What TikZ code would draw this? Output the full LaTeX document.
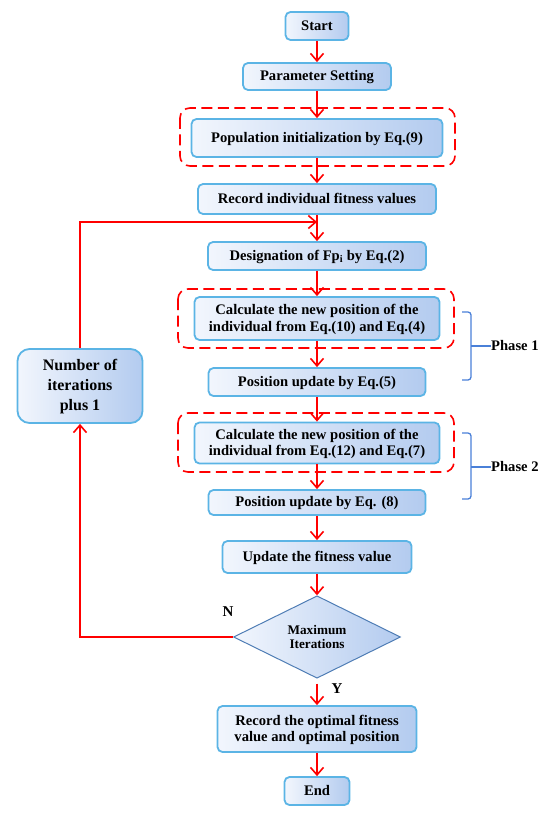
\documentclass[tikz,border=0pt]{standalone}
\usepackage{fontspec}
\setmainfont{Liberation Serif}
\usetikzlibrary{arrows.meta,shapes.geometric}
\definecolor{bordc}{HTML}{5BB4E5}
\definecolor{fillL}{HTML}{F2F6FD}
\definecolor{fillR}{HTML}{B3CBEF}
\definecolor{arrc}{HTML}{FF0000}
\definecolor{bracec}{HTML}{4A80D8}
\definecolor{diac}{HTML}{4F7DB5}
\begin{document}
\begin{tikzpicture}[x=1pt,y=-1pt,
  box/.style={draw=bordc, line width=1.8pt, rounded corners=5pt, left color=fillL, right color=fillR,
    inner sep=0pt, align=center, font=\fontsize{14.6}{16.7}\selectfont\bfseries, text=black, text depth=1.5pt},
  arr/.style={draw=arrc, line width=1.6pt, -{Straight Barb[length=7.5pt,width=13pt]}},
  dbox/.style={draw=arrc, line width=1.6pt, dash pattern=on 11pt off 5.5pt, rounded corners=10pt},
  brace/.style={draw=bracec, line width=1.3pt},
  lab/.style={font=\fontsize{14.6}{16.7}\selectfont\bfseries, inner sep=0pt}]
\useasboundingbox (0,0) rectangle (550,826);
% dashed groups
\draw[dbox] (180,108) rectangle (455,166);
\draw[dbox] (178,289) rectangle (454,348);
\draw[dbox] (178,413) rectangle (454,472);
% nodes
\node[box, minimum width=63pt, minimum height=28pt] (start) at (317,26) {Start};
\node[box, minimum width=148pt, minimum height=27pt] (param) at (317,76.5) {Parameter Setting};
\node[box, minimum width=251pt, minimum height=38pt] (pop) at (317,138) {Population initialization by Eq.(9)};
\node[box, minimum width=238pt, minimum height=30pt] (rec) at (317,199) {Record individual fitness values};
\node[box, minimum width=218pt, minimum height=28pt] (desig) at (317,256) {Designation of Fp\textsubscript{i} by Eq.(2)};
\node[box, minimum width=245pt, minimum height=43pt] (calc1) at (317,318.5) {Calculate the new position of the\\individual from Eq.(10) and Eq.(4)};
\node[box, minimum width=217pt, minimum height=28pt] (pos5) at (317,382) {Position update by Eq.(5)};
\node[box, minimum width=245pt, minimum height=41pt] (calc2) at (317,443) {Calculate the new position of the\\individual from Eq.(12) and Eq.(7)};
\node[box, minimum width=217pt, minimum height=25pt] (pos8) at (317,502.5) {Position update by Eq. (8)};
\node[box, minimum width=189pt, minimum height=32pt] (upd) at (317,557) {Update the fitness value};
\node[diamond, draw=diac, line width=1pt, left color=fillL, right color=fillR, inner sep=0pt,
  minimum width=167pt, minimum height=71pt, align=center,
  font=\fontsize{13.2}{14.5}\selectfont\bfseries] (dia) at (317,637) {Maximum\\Iterations};
\node[box, minimum width=199pt, minimum height=46pt] (opt) at (317,729) {Record the optimal fitness\\value and optimal position};
\node[box, minimum width=65pt, minimum height=28pt] (endn) at (317,791) {End};
\node[box, rounded corners=12pt, minimum width=125pt, minimum height=74pt,
  font=\fontsize{16}{20}\selectfont\bfseries] (iter) at (80,386) {Number of\\iterations\\plus 1};
% labels
\node[lab, font=\fontsize{15}{17}\selectfont\bfseries] (nlab) at (228,612) {N};
\node[lab, font=\fontsize{15}{17}\selectfont\bfseries] (ylab) at (337,689) {Y};
% arrows
\draw[arr] (start) -- (param);
\draw[arr] (param) -- (pop);
\draw[arr] (pop) -- (rec);
\draw[arr] (rec) -- (desig);
\draw[arr] (desig) -- (calc1);
\draw[arr] (calc1) -- (pos5);
\draw[arr] (pos5) -- (calc2);
\draw[arr] (calc2) -- (pos8);
\draw[arr] (pos8) -- (upd);
\draw[arr] (upd) -- (dia);
\draw[arr, shorten <=5pt] (dia) -- (opt);
\draw[arr] (opt) -- (endn);
% loop
\coordinate (merge) at (317,222);
\draw[arr] (dia.west) -| (iter.south);
\draw[arr] (iter.north) |- (merge);
% braces
\node[lab, anchor=west] (ph1) at (491,346) {Phase 1};
\node[lab, anchor=west] (ph2) at (491,467) {Phase 2};
\draw[brace, rounded corners=3pt] (462,312) -- (471,312) -- (471,380) -- (462,380);
\draw[brace] (471,346) -- (ph1.west);
\draw[brace, rounded corners=3pt] (462,433) -- (471,433) -- (471,499) -- (462,499);
\draw[brace] (471,467) -- (ph2.west);
\end{tikzpicture}
\end{document}
